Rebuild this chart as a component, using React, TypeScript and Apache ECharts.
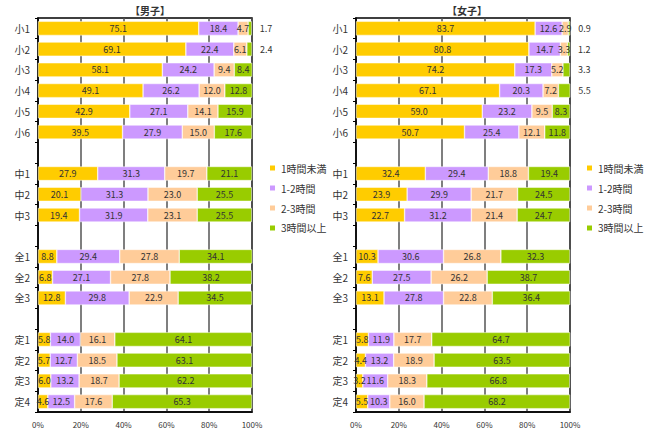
import React, { useEffect, useRef } from 'react';
import * as echarts from 'echarts';

const categories = ['小1', '小2', '小3', '小4', '小5', '小6', '', '中1', '中2', '中3', ' ', '全1', '全2', '全3', '  ', '定1', '定2', '定3', '定4'];
const seriesNames = ['1時間未満', '1-2時間', '2-3時間', '3時間以上'];
const colors = ['#ffcc00', '#cc99ff', '#ffcc99', '#99cc00'];

const boysLt1 = [75.1, 69.1, 58.1, 49.1, 42.9, 39.5, null, 27.9, 20.1, 19.4, null, 8.8, 6.8, 12.8, null, 5.8, 5.7, 6.0, 4.6];
const boys1to2 = [18.4, 22.4, 24.2, 26.2, 27.1, 27.9, null, 31.3, 31.3, 31.9, null, 29.4, 27.1, 29.8, null, 14.0, 12.7, 13.2, 12.5];
const boys2to3 = [4.7, 6.1, 9.4, 12.0, 14.1, 15.0, null, 19.7, 23.0, 23.1, null, 27.8, 27.8, 22.9, null, 16.1, 18.5, 18.7, 17.6];
const boys3plus = [1.7, 2.4, 8.4, 12.8, 15.9, 17.6, null, 21.1, 25.5, 25.5, null, 34.1, 38.2, 34.5, null, 64.1, 63.1, 62.2, 65.3];

const girlsLt1 = [83.7, 80.8, 74.2, 67.1, 59.0, 50.7, null, 32.4, 23.9, 22.7, null, 10.3, 7.6, 13.1, null, 5.8, 4.4, 3.2, 5.5];
const girls1to2 = [12.6, 14.7, 17.3, 20.3, 23.2, 25.4, null, 29.4, 29.9, 31.2, null, 30.6, 27.5, 27.8, null, 11.9, 13.2, 11.6, 10.3];
const girls2to3 = [2.9, 3.3, 5.2, 7.2, 9.5, 12.1, null, 18.8, 21.7, 21.4, null, 26.8, 26.2, 22.8, null, 17.7, 18.9, 18.3, 16.0];
const girls3plus = [0.9, 1.2, 3.3, 5.5, 8.3, 11.8, null, 19.4, 24.5, 24.7, null, 32.3, 38.7, 36.4, null, 64.7, 63.5, 66.8, 68.2];

const App: React.FC = () => {
  const chartRef = useRef<HTMLDivElement>(null);

  useEffect(() => {
    document.body.style.margin = '0';
    if (!chartRef.current) return;
    const chart = echarts.init(chartRef.current, null, { renderer: 'svg' });
    const font = 'Noto Sans CJK JP';

    const mkData = (vals: (number | null)[], isLast: boolean) =>
      vals.map((v) => {
        if (v == null) return null;
        if (isLast && v < 6) {
          return { value: v, label: { position: 'right', distance: 8, color: '#333', fontSize: 9 } };
        }
        return v;
      });

    const groups = [
      [boysLt1, boys1to2, boys2to3, boys3plus],
      [girlsLt1, girls1to2, girls2to3, girls3plus],
    ];

    const series: any[] = [];
    groups.forEach((g, gi) => {
      g.forEach((vals, si) => {
        series.push({
          name: seriesNames[si],
          type: 'bar',
          stack: 'g' + gi,
          xAxisIndex: gi,
          yAxisIndex: gi,
          barCategoryGap: '32%',
          itemStyle: { color: colors[si], borderColor: '#fff', borderWidth: 0.5 },
          label: {
            show: true,
            position: 'inside',
            color: '#333',
            fontSize: 9,
            fontFamily: font,
            formatter: (p: any) => (p.value == null ? '' : Number(p.value).toFixed(1)),
          },
          data: mkData(vals, si === 3),
        });
      });
    });

    const xAxis = (gi: number) => ({
      type: 'value',
      gridIndex: gi,
      min: 0,
      max: 100,
      interval: 20,
      axisLabel: { formatter: '{value}%', fontSize: 8, color: '#333', fontFamily: font, margin: 8 },
      axisLine: { show: true, lineStyle: { color: '#000', width: 1.5 } },
      axisTick: { show: false },
      splitLine: { show: true, lineStyle: { color: '#555', width: 1.5 } },
    });
    const yAxis = (gi: number) => ({
      type: 'category',
      gridIndex: gi,
      inverse: true,
      data: categories,
      axisLabel: { fontSize: 10, color: '#333', fontFamily: font, margin: 8 },
      axisLine: { show: true, lineStyle: { color: '#000', width: 1.5 } },
      axisTick: { show: true, length: 3, lineStyle: { color: '#000' } },
    });

    const legend = (left: number) => ({
      orient: 'vertical',
      left,
      top: 158,
      itemWidth: 7,
      itemHeight: 7,
      itemGap: 10,
      icon: 'rect',
      data: seriesNames,
      textStyle: { fontSize: 10, color: '#333', fontFamily: font },
    });

    chart.setOption({
      animation: false,
      textStyle: { fontFamily: font },
      title: [
        { text: '【男子】', left: 145, top: 0, textAlign: 'center', textStyle: { fontSize: 10, fontWeight: 'bold', color: '#333' } },
        { text: '【女子】', left: 462, top: 0, textAlign: 'center', textStyle: { fontSize: 10, fontWeight: 'bold', color: '#333' } },
      ],
      legend: [legend(263), legend(580)],
      grid: [
        { left: 38, top: 18, width: 214, height: 394, show: true, borderColor: '#000', borderWidth: 1.5 },
        { left: 356, top: 18, width: 214, height: 394, show: true, borderColor: '#000', borderWidth: 1.5 },
      ],
      xAxis: [xAxis(0), xAxis(1)],
      yAxis: [yAxis(0), yAxis(1)],
      series,
    });

    return () => chart.dispose();
  }, []);

  return <div ref={chartRef} style={{ width: 646, height: 430 }} />;
};

export default App;
